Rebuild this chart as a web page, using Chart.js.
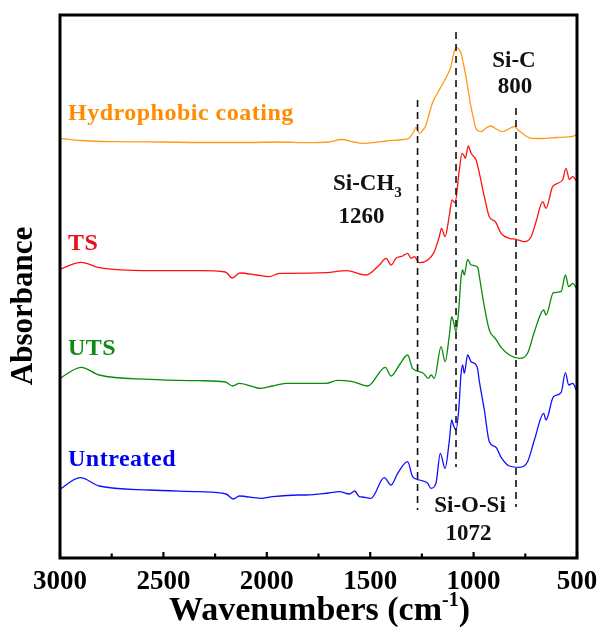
<!DOCTYPE html>
<html><head><meta charset="utf-8">
<script src="https://cdn.jsdelivr.net/npm/chart.js@4.4.1/dist/chart.umd.min.js"></script>
<style>html,body{margin:0;padding:0;background:#fff;}canvas{display:block;}</style>
</head><body>
<canvas id="c" width="601" height="628"></canvas>
<script>
// ---- data (x: wavenumber cm-1, y: absorbance, offset a.u.) ----
const seriesNames = ['Hydrophobic coating', 'TS', 'UTS', 'Untreated'];
const xTicks = [3000, 2500, 2000, 1500, 1000, 500];

const coatingWn  = [3000,2900,2710,2500,2324,2100,1938,1800,1700,1639,1580,1538,1480,1422,1340,1311,1290,1279,1263,1245,1230,1215,1199,1180,1166,1150,1134,1120,1110,1094,1083,1072,1061,1050,1037,1025,1013,1000,989,975,965,940,917,890,861,830,804,785,764,740,716,680,651,600,572,530,510,502];
const coatingAbs = [4.227,4.205,4.193,4.19,4.185,4.185,4.19,4.183,4.19,4.215,4.19,4.177,4.185,4.20,4.215,4.23,4.29,4.337,4.277,4.31,4.36,4.47,4.58,4.66,4.71,4.77,4.83,4.89,4.943,5.093,5.137,5.12,5.077,4.98,4.843,4.69,4.543,4.42,4.327,4.30,4.293,4.33,4.35,4.32,4.293,4.32,4.343,4.31,4.277,4.24,4.227,4.225,4.227,4.235,4.237,4.243,4.255,4.27];

const tsWn  = [3000,2898,2810,2568,2326,2200,2167,2130,2051,1988,1939,1906,1712,1615,1520,1456,1423,1399,1375,1343,1319,1303,1287,1262,1222,1190,1166,1155,1138,1117,1104,1090,1069,1056,1048,1040,1026,1012,988,972,948,924,895,867,827,794,754,722,698,666,650,618,570,553,537,521,500];
const tsAbs = [2.917,2.987,2.933,2.903,2.903,2.89,2.83,2.88,2.86,2.843,2.877,2.877,2.883,2.903,2.86,2.96,3.027,2.96,3.027,3.05,3.077,3.027,3.043,2.983,3.01,3.093,3.243,3.327,3.243,3.46,3.61,3.583,3.91,4.077,4.06,4.027,4.15,4.077,4.01,3.877,3.643,3.443,3.393,3.277,3.227,3.217,3.193,3.243,3.393,3.593,3.527,3.743,3.81,3.927,3.817,3.843,3.793];

const utsWn  = [3000,2898,2810,2568,2326,2200,2165,2133,2028,1972,1907,1714,1658,1585,1512,1427,1399,1359,1319,1295,1246,1219,1206,1190,1157,1138,1117,1106,1097,1085,1072,1061,1053,1045,1029,1012,980,972,948,924,892,867,827,778,739,706,661,650,614,577,556,540,521,500];
const utsAbs = [1.827,1.937,1.86,1.817,1.803,1.79,1.75,1.777,1.727,1.75,1.777,1.777,1.807,1.793,1.75,1.937,1.85,1.96,2.06,1.927,1.883,1.827,1.86,1.827,2.143,1.993,2.26,2.443,2.393,2.293,2.51,2.827,2.91,2.86,3.017,2.96,2.937,2.843,2.543,2.31,2.217,2.137,2.06,2.027,2.077,2.293,2.51,2.46,2.683,2.693,2.86,2.743,2.777,2.717];

const untreatedWn  = [3000,2903,2810,2568,2326,2197,2162,2133,2028,1972,1850,1810,1700,1649,1600,1575,1553,1540,1496,1432,1399,1367,1319,1295,1262,1222,1206,1182,1161,1138,1117,1106,1098,1085,1072,1061,1053,1045,1029,1012,983,972,948,924,892,867,827,778,739,706,661,650,614,577,556,540,521,500];
const untreatedAbs = [0.717,0.833,0.75,0.71,0.693,0.67,0.62,0.65,0.627,0.643,0.66,0.66,0.68,0.693,0.67,0.70,0.643,0.64,0.627,0.833,0.76,0.877,0.993,0.843,0.81,0.777,0.727,0.777,1.077,0.927,1.21,1.41,1.36,1.31,1.51,1.86,1.96,1.877,2.06,1.993,1.943,1.793,1.51,1.193,1.137,1.037,0.95,0.937,0.993,1.21,1.477,1.41,1.643,1.683,1.883,1.76,1.777,1.693];

// dashed reference lines (drawn position, span)
const markerWn     = [1271, 1085, 795];
const markerTop    = [4.61, 5.29, 4.53];
const markerBottom = [0.51, 0.94, 0.54];

// ---- styles ----
const lineColors  = ['#ff9a1a', '#ff1010', '#0a8a0a', '#1010ff'];
const labelColors = ['#ff8c00', '#e8101a', '#138a13', '#0000f0'];
const SERIF = '"Liberation Serif","Times New Roman",Times,serif';

function pts(xs, ys) { return xs.map((x, i) => ({ x: x, y: ys[i] })); }

const curves = [
  pts(coatingWn, coatingAbs), pts(tsWn, tsAbs), pts(utsWn, utsAbs), pts(untreatedWn, untreatedAbs)
];

const datasets = [];
markerWn.forEach((w, i) => {
  datasets.push({
    data: [{ x: w, y: markerTop[i] }, { x: w, y: markerBottom[i] }],
    showLine: true, borderColor: '#111', borderWidth: 1.6, borderDash: [7, 5],
    pointRadius: 0, fill: false
  });
});
curves.forEach((d, i) => {
  datasets.push({
    label: seriesNames[i], data: d, showLine: true,
    borderColor: lineColors[i], borderWidth: 1.3, pointRadius: 0,
    cubicInterpolationMode: 'monotone', fill: false
  });
});

const decor = {
  id: 'decor',
  afterDraw(chart) {
    const ctx = chart.ctx, a = chart.chartArea, xs = chart.scales.x;
    ctx.save();
    // inward x ticks
    ctx.strokeStyle = '#000'; ctx.lineWidth = 2.2;
    for (let v = 3000; v >= 500; v -= 250) {
      const px = xs.getPixelForValue(v);
      const len = (v % 500 === 0) ? 6 : 4.5;
      ctx.beginPath(); ctx.moveTo(px, a.bottom); ctx.lineTo(px, a.bottom - len); ctx.stroke();
    }
    // frame
    ctx.lineWidth = 3;
    ctx.strokeRect(a.left, a.top, a.right - a.left, a.bottom - a.top);

    // series labels
    ctx.textAlign = 'left'; ctx.textBaseline = 'alphabetic';
    ctx.font = 'bold 24px ' + SERIF;
    try { ctx.letterSpacing = '0.5px'; } catch (e) {}
    const labY = [120, 250, 355, 466];
    seriesNames.forEach((n, i) => { ctx.fillStyle = labelColors[i]; ctx.fillText(n, 68, labY[i]); });
    try { ctx.letterSpacing = '0px'; } catch (e) {}

    // annotations
    ctx.fillStyle = '#111';
    ctx.font = 'bold 23px ' + SERIF;
    ctx.textAlign = 'left';
    ctx.fillText('Si-CH', 333, 190);
    const w1 = ctx.measureText('Si-CH').width;
    ctx.font = 'bold 15px ' + SERIF;
    ctx.fillText('3', 333 + w1, 197);
    ctx.font = 'bold 23px ' + SERIF;
    ctx.textAlign = 'center';
    ctx.fillText('1260', 361.5, 223);
    ctx.fillText('Si-C', 514, 66.7);
    ctx.fillText('800', 515, 93.3);
    ctx.fillText('Si-O-Si', 470, 511.7);
    ctx.fillText('1072', 468.5, 540);

    // y title
    ctx.save();
    ctx.translate(24, 306); ctx.rotate(-Math.PI / 2);
    ctx.font = 'bold 31px ' + SERIF; ctx.textAlign = 'center'; ctx.textBaseline = 'middle';
    ctx.fillStyle = '#000';
    ctx.fillText('Absorbance', 0, 0);
    ctx.restore();

    // x title with superscript
    ctx.fillStyle = '#000'; ctx.textAlign = 'left'; ctx.textBaseline = 'alphabetic';
    const big = 'bold 34px ' + SERIF, small = 'bold 20px ' + SERIF;
    ctx.font = big; const t1 = 'Wavenumbers (cm'; const wA = ctx.measureText(t1).width;
    const wC = ctx.measureText(')').width;
    ctx.font = small; const wB = ctx.measureText('-1').width;
    const total = wA + wB + wC;
    let x0 = (a.left + a.right) / 2 - total / 2 + 1;
    const base = 620;
    ctx.font = big; ctx.fillText(t1, x0, base);
    ctx.font = small; ctx.fillText('-1', x0 + wA, base - 14);
    ctx.font = big; ctx.fillText(')', x0 + wA + wB, base);
    ctx.restore();
  }
};

new Chart(document.getElementById('c'), {
  type: 'scatter',
  data: { datasets: datasets },
  options: {
    responsive: false, animation: false, devicePixelRatio: 1,
    layout: { padding: { top: 15, right: 24, left: 0, bottom: 0 } },
    plugins: { legend: { display: false }, tooltip: { enabled: false } },
    scales: {
      x: {
        type: 'linear', reverse: true, min: 500, max: 3000,
        afterFit(s) { s.height = 70; s.paddingLeft = 0; s.paddingRight = 0; },
        afterBuildTicks(s) { s.ticks = xTicks.map(v => ({ value: v })); },
        grid: { display: false, drawTicks: false }, border: { display: false },
        ticks: { autoSkip: false, maxRotation: 0, padding: 8, color: '#000',
                 callback: v => String(v),
                 font: { family: SERIF, size: 27, weight: 'bold' } }
      },
      y: {
        min: 0.03, max: 5.46,
        afterFit(s) { s.width = 60; },
        ticks: { display: false }, grid: { display: false, drawTicks: false }, border: { display: false }
      }
    }
  },
  plugins: [decor]
});
</script>
</body></html>
